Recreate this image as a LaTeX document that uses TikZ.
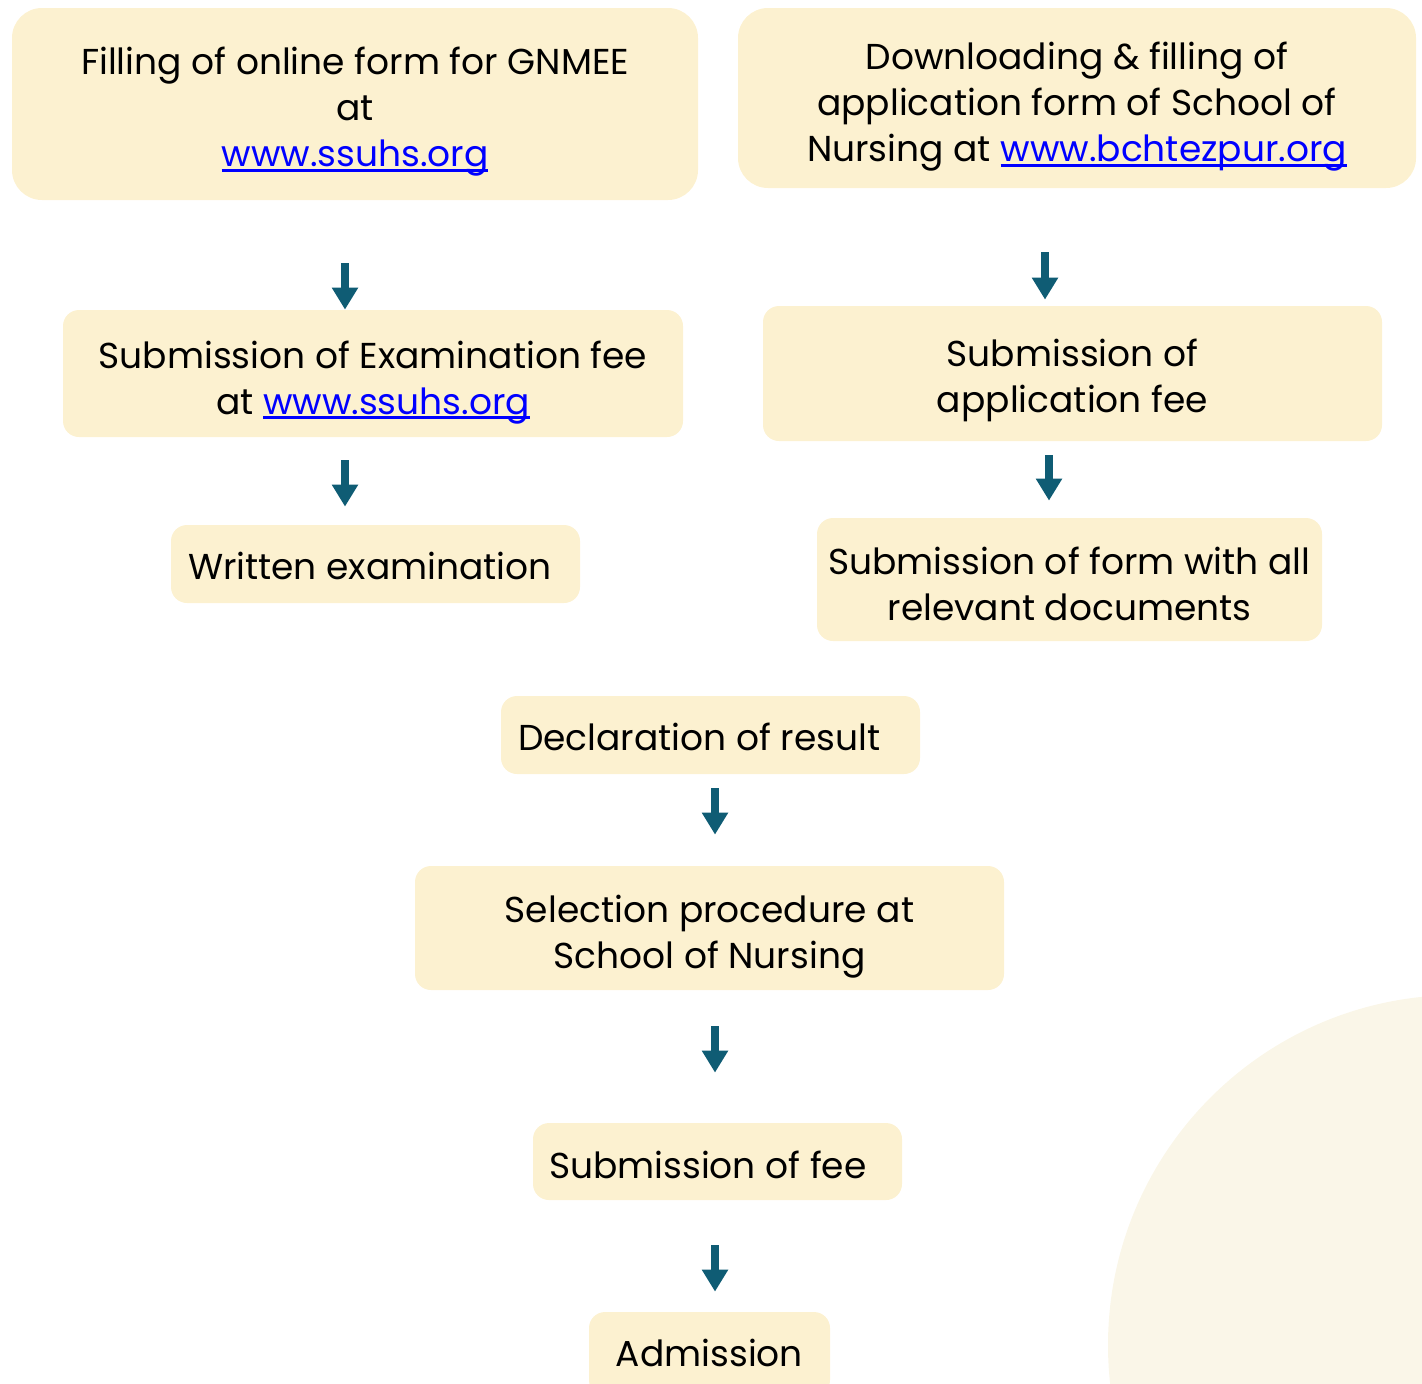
\documentclass[tikz,border=0pt]{standalone}
\usepackage{fontspec}
\setmainfont{Poppins}
\usetikzlibrary{arrows.meta}
\definecolor{boxfill}{HTML}{FCF1D0}
\definecolor{circfill}{HTML}{FAF6E8}
\definecolor{arrcol}{HTML}{0F5C74}
\definecolor{linkblue}{HTML}{0000FF}
\newcommand\lnk[1]{\setbox0\hbox{#1}{\color{linkblue}\rlap{\rule[-2.3pt]{\wd0}{1.3pt}}\box0}}
\tikzset{
  box/.style={fill=boxfill, draw=none, inner sep=0pt},
  tx/.style={align=center, inner sep=0pt, text=black, fill=none,
    font=\fontsize{18pt}{23pt}\selectfont},
  bigbox/.style={box, rounded corners=15pt},
  smallbox/.style={box, rounded corners=8pt},
  arr/.style={draw=arrcol, line width=4pt, -{Triangle[width=12.5pt,length=11pt]}}
}
\begin{document}
\begin{tikzpicture}[x=0.5pt,y=-0.5pt]
\useasboundingbox (0,0) rectangle (1422,1383);
\clip (0,0) rectangle (1422,1383);
\fill[circfill] (1458,1345) circle[radius=175pt];

\node[bigbox, minimum width=343pt, minimum height=96pt,
  label={[tx, yshift=-4pt]center:{Filling of online form for GNMEE\\at\\\lnk{www.ssuhs.org}}}] (b1) at (355,104) {};
\node[bigbox, minimum width=339pt, minimum height=90pt,
  label={[tx, yshift=-4.5pt]center:{Downloading \& filling of\\application form of School of\\Nursing at \lnk{www.bchtezpur.org}}}] (b2) at (1077,98) {};
\node[smallbox, minimum width=310pt, minimum height=63.5pt,
  label={[tx, yshift=-4.3pt]center:{Submission of Examination fee\\at \lnk{www.ssuhs.org}}}] (b4) at (373,373.5) {};
\node[smallbox, minimum width=309.5pt, minimum height=67.5pt,
  label={[tx, yshift=-3.3pt]center:{Submission of\\application fee}}] (b6) at (1072.5,373.5) {};
\node[smallbox, minimum width=204.5pt, minimum height=39pt,
  label={[tx, anchor=west, xshift=8.5pt, yshift=-1pt]west:{Written examination}}] (b8) at (375.5,564) {};
\node[smallbox, minimum width=252.5pt, minimum height=61.5pt,
  label={[tx, yshift=-2pt]center:{Submission of form with all\\relevant documents}}] (b10) at (1069.5,579.5) {};
\node[smallbox, minimum width=209.5pt, minimum height=39pt,
  label={[tx, anchor=west, xshift=8.5pt, yshift=-1pt]west:{Declaration of result}}] (b11) at (710.5,735) {};
\node[smallbox, minimum width=294.5pt, minimum height=62pt,
  label={[tx, yshift=-4.5pt]center:{Selection procedure at\\School of Nursing}}] (b13) at (709.5,928) {};
\node[smallbox, minimum width=184.5pt, minimum height=38.5pt,
  label={[tx, anchor=west, xshift=8pt, yshift=-1.5pt]west:{Submission of fee}}] (b15) at (717.5,1161.5) {};
\node[smallbox, minimum width=120.5pt, minimum height=42pt,
  label={[tx, yshift=0.5pt]center:{Admission}}] (b17) at (709.5,1354) {};

\coordinate (a1) at (345,263);
\coordinate (a2) at (1045,252);
\coordinate (a3) at (345,460);
\coordinate (a4) at (1049,455);
\coordinate (a5) at (715,788);
\coordinate (a6) at (715,1026);
\coordinate (a7) at (715,1245);
\draw[arr] (a1) -- (a1 |- b4.north);
\draw[arr, shorten >=3pt] (a2) -- (a2 |- b6.north);
\draw[arr, shorten >=9pt] (a3) -- (a3 |- b8.north);
\draw[arr, shorten >=8.5pt] (a4) -- (a4 |- b10.north);
\draw[arr, shorten >=15.5pt] (a5) -- (a5 |- b13.north);
\draw[arr, shorten >=25pt] (a6) -- (a6 |- b15.north);
\draw[arr, shorten >=10pt] (a7) -- (a7 |- b17.north);
\end{tikzpicture}
\end{document}
